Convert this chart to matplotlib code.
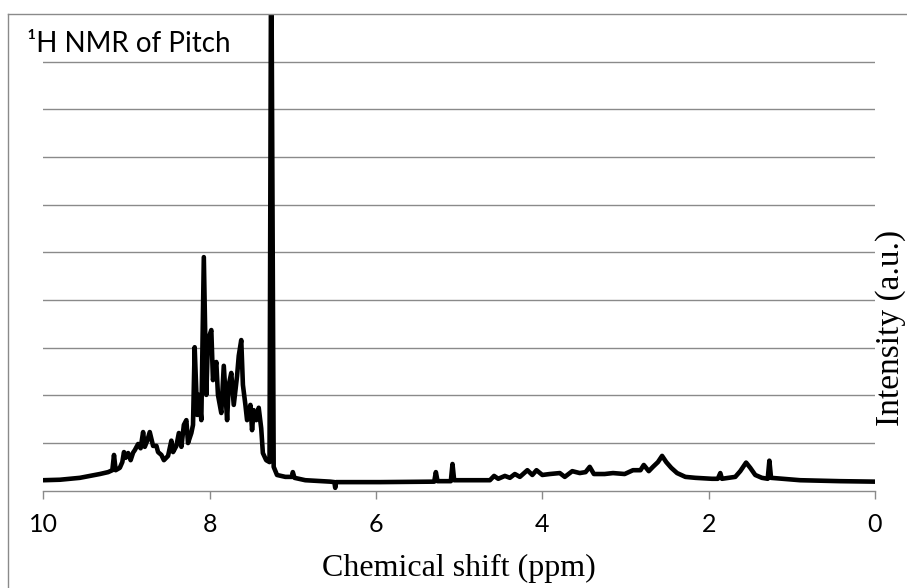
import matplotlib
matplotlib.use("Agg")
import matplotlib.pyplot as plt
from matplotlib.lines import Line2D

# Spectrum (chemical shift in ppm, intensity in a.u.)
ppm = [10.00, 9.80, 9.56, 9.32, 9.22, 9.17, 9.15, 9.13, 9.08, 9.05, 9.03, 9.01, 8.98,
       8.95, 8.92, 8.90, 8.86, 8.83, 8.80, 8.78, 8.75, 8.72, 8.68, 8.64, 8.62, 8.58,
       8.55, 8.50, 8.46, 8.44, 8.40, 8.37, 8.34, 8.31, 8.28, 8.26, 8.22, 8.20,
       8.18, 8.15, 8.13, 8.10, 8.07, 8.04, 8.02, 7.98, 7.96, 7.92, 7.90, 7.86,
       7.83, 7.79, 7.77, 7.74, 7.71, 7.67, 7.65, 7.62, 7.60, 7.57, 7.55, 7.51,
       7.49, 7.47, 7.44, 7.41, 7.38, 7.36, 7.32, 7.28, 7.26, 7.23, 7.19, 7.09,
       7.01, 7.00, 6.98, 6.85, 6.55, 6.50, 6.49, 6.48, 5.95, 5.30, 5.28, 5.26,
       5.10, 5.08, 5.06, 4.63, 4.58, 4.53, 4.45, 4.39, 4.33, 4.27, 4.18, 4.12,
       4.07, 4.00, 3.91, 3.79, 3.73, 3.64, 3.55, 3.48, 3.43, 3.38, 3.25, 3.15,
       3.01, 2.91, 2.82, 2.78, 2.72, 2.67, 2.61, 2.56, 2.51, 2.45, 2.38, 2.28,
       2.16, 1.96, 1.89, 1.86, 1.84, 1.68, 1.62, 1.55, 1.50, 1.44, 1.36, 1.29,
       1.27, 1.25, 0.90, 0.42, 0.00]
intensity = [0.22, 0.23, 0.27, 0.35, 0.39, 0.43, 0.75, 0.43, 0.48, 0.60, 0.81, 0.69, 0.79,
             0.64, 0.80, 0.85, 0.98, 0.89, 1.23, 0.92, 1.05, 1.23, 0.94, 0.94, 0.81, 0.75,
             0.64, 0.73, 1.05, 0.81, 0.94, 1.21, 0.92, 1.38, 1.48, 1.00, 1.21, 1.38,
             3.01, 1.59, 2.01, 1.48, 4.90, 2.01, 3.16, 3.37, 2.32, 2.70, 2.01, 1.63,
             2.62, 1.48, 2.22, 2.47, 1.80, 2.41, 2.83, 3.16, 2.22, 1.80, 1.48, 1.80,
             1.27, 1.69, 1.48, 1.74, 1.31, 0.79, 0.64, 0.60, 12.0, 0.50, 0.33, 0.29,
             0.29, 0.39, 0.27, 0.22, 0.19, 0.18, 0.06, 0.18, 0.18, 0.19, 0.39, 0.20,
             0.20, 0.56, 0.22, 0.22, 0.31, 0.25, 0.31, 0.27, 0.35, 0.29, 0.43, 0.33,
             0.43, 0.33, 0.35, 0.37, 0.29, 0.41, 0.37, 0.39, 0.50, 0.35, 0.35, 0.37,
             0.35, 0.43, 0.43, 0.54, 0.41, 0.50, 0.60, 0.73, 0.60, 0.48, 0.37, 0.29,
             0.27, 0.25, 0.25, 0.37, 0.25, 0.29, 0.41, 0.59, 0.48, 0.33, 0.27, 0.25,
             0.63, 0.27, 0.22, 0.20, 0.19]

x_ticks = [10, 8, 6, 4, 2, 0]
y_grid = [1, 2, 3, 4, 5, 6, 7, 8, 9]

title_text = "\u00b9H NMR of Pitch"
x_label = "Chemical shift (ppm)"
y_label = "Intensity (a.u.)"

W, H = 907, 588
GRID = "#8a8a8a"

fig = plt.figure(figsize=(W / 100, H / 100), dpi=100)
fig.patch.set_facecolor("white")

ax = fig.add_axes([43.3 / W, (H - 490.7) / H, (875 - 43.3) / W, (490.7 - 14) / H])
ax.plot(ppm, intensity, color="black", lw=3.3,
        solid_joinstyle="round", solid_capstyle="round", zorder=3)
ax.set_xlim(10, 0)
ax.set_ylim(0, 10)

ax.set_xticks(x_ticks)
ax.set_xticklabels([str(t) for t in x_ticks], family=["Lato", "DejaVu Sans"], fontsize=18)
ax.tick_params(axis="x", direction="out", length=5.8, width=1, color=GRID, pad=10)
ax.set_yticks(y_grid)
ax.tick_params(axis="y", length=0, labelleft=False)
ax.grid(axis="y", color=GRID, lw=1)
ax.set_axisbelow(True)
for s in ["left", "right", "top"]:
    ax.spines[s].set_visible(False)
ax.spines["bottom"].set_color(GRID)
ax.spines["bottom"].set_linewidth(1)

# chart border (left and top)
fig.add_artist(Line2D([8 / W, 8 / W], [0, 1 - 14 / H], transform=fig.transFigure,
                      color=GRID, lw=1))
fig.add_artist(Line2D([8 / W, 1], [1 - 14 / H, 1 - 14 / H], transform=fig.transFigure,
                      color=GRID, lw=1))

fig.text(27 / W, 1 - 52 / H, title_text, family=["Lato", "DejaVu Sans"], fontsize=20,
         ha="left", va="baseline")
fig.text(459 / W, 1 - 576 / H, x_label, family=["Liberation Serif", "DejaVu Serif"],
         fontsize=23, ha="center", va="baseline")
fig.text(891 / W, 1 - 328 / H, y_label, family=["Liberation Serif", "DejaVu Serif"],
         fontsize=24, rotation=90, ha="center", va="center")

fig.savefig("out.png", dpi=100, facecolor="white")
